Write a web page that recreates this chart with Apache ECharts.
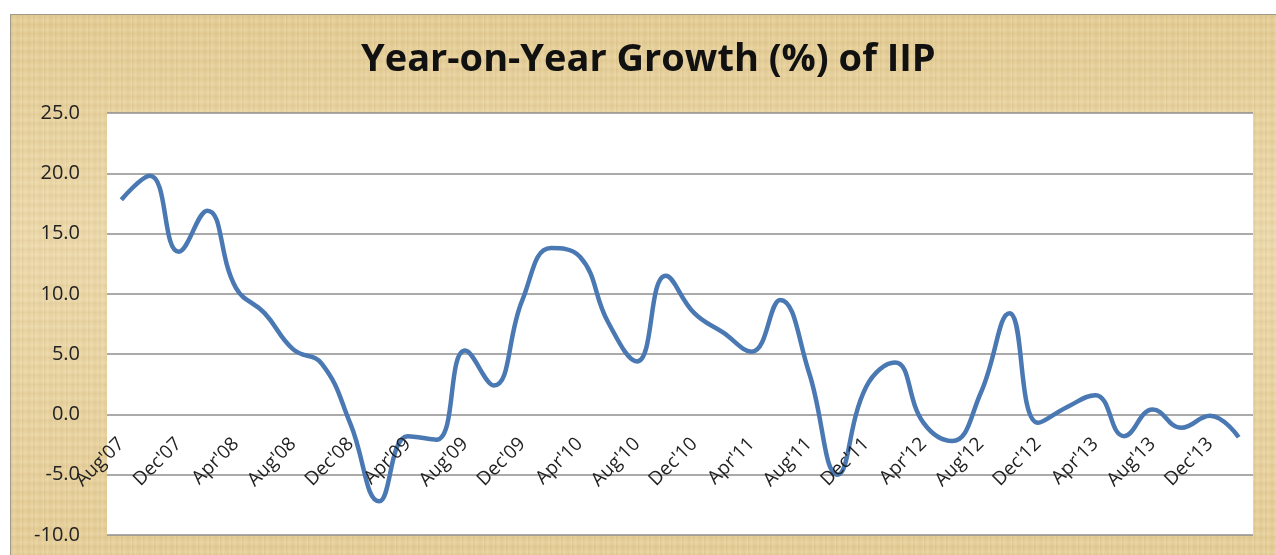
<!DOCTYPE html>
<html>
<head>
<meta charset="utf-8">
<script src="https://cdn.jsdelivr.net/npm/echarts@6/dist/echarts.min.js"></script>
<style>
  html, body { margin: 0; padding: 0; background: #ffffff; }
  #bg {
    position: absolute; left: 10px; top: 14px; width: 1266px; height: 541px;
    border-top: 1px solid #a09a8c; border-left: 1px solid #a09a8c;
    background-color: #e9d5a5;
    background-image:
      repeating-linear-gradient(90deg, rgba(160,120,50,0.10) 0px, rgba(255,245,210,0.10) 3px, rgba(160,120,50,0.06) 7px, rgba(255,250,220,0.12) 11px),
      repeating-linear-gradient(0deg, rgba(150,110,40,0.08) 0px, rgba(255,245,215,0.10) 4px, rgba(150,110,40,0.05) 9px),
      linear-gradient(180deg, rgba(220,190,120,0.35) 0%, rgba(250,235,200,0.25) 40%, rgba(225,195,130,0.35) 100%);
  }
  #chart { position: absolute; left: 0; top: 0; width: 1276px; height: 555px; }
</style>
</head>
<body>
<div id="bg"></div>
<div id="chart"></div>
<script>
const categories = [
  "Aug'07","Oct'07","Dec'07","Feb'08","Apr'08","Jun'08","Aug'08","Oct'08",
  "Dec'08","Feb'09","Apr'09","Jun'09","Aug'09","Oct'09","Dec'09","Feb'10",
  "Apr'10","Jun'10","Aug'10","Oct'10","Dec'10","Feb'11","Apr'11","Jun'11",
  "Aug'11","Oct'11","Dec'11","Feb'12","Apr'12","Jun'12","Aug'12","Oct'12",
  "Dec'12","Feb'13","Apr'13","Jun'13","Aug'13","Oct'13","Dec'13","Feb'14"
];
const growthIIP = [
  17.8, 19.8, 13.5, 16.9, 10.5, 8.4, 5.4, 4.2,
  -0.8, -7.2, -1.8, -2.1, 5.3, 2.4, 9.5, 13.8,
  13.1, 7.6, 4.4, 11.5, 8.4, 6.8, 5.2, 9.5,
  3.5, -5.0, 2.3, 4.3, -0.7, -2.2, 1.8, 8.4,
  -0.7, 0.6, 1.6, -1.8, 0.4, -1.1, -0.1, -1.9
];
const yTicks = { min: -10, max: 25, interval: 5 };
const titleText = "Year-on-Year Growth (%) of IIP";

const chart = echarts.init(document.getElementById('chart'), null, { renderer: 'canvas' });
chart.setOption({
  backgroundColor: 'transparent',
  animation: false,
  title: {
    text: titleText,
    left: 356,
    top: 36,
    textStyle: { fontFamily: 'Open Sans', fontWeight: 'bold', fontSize: 38, color: '#111111' }
  },
  grid: {
    left: 107, right: 23, top: 113, bottom: 20,
    show: true, backgroundColor: '#ffffff', borderWidth: 0,
    containLabel: false, outerBoundsMode: 'none'
  },
  xAxis: {
    type: 'category',
    data: categories,
    boundaryGap: true,
    position: 'bottom',
    offset: -120,
    z: 10,
    axisLine: { show: false, onZero: false },
    axisTick: { show: false },
    axisLabel: {
      interval: 1, rotate: 45, margin: 26,
      fontFamily: 'Open Sans', fontSize: 19, color: '#222222'
    }
  },
  yAxis: {
    type: 'value',
    min: yTicks.min, max: yTicks.max, interval: yTicks.interval,
    axisLine: { show: false },
    axisTick: { show: false },
    axisLabel: {
      margin: 27, fontFamily: 'Open Sans', fontSize: 20, color: '#222222',
      formatter: v => v.toFixed(1)
    },
    splitLine: { show: true, lineStyle: { color: '#8e8e8e', width: 1.6 } }
  },
  series: [{
    type: 'line',
    data: growthIIP,
    smooth: 0.45,
    showSymbol: false,
    lineStyle: { color: '#4a78b3', width: 4.5 },
    z: 3
  }]
});
</script>
</body>
</html>
